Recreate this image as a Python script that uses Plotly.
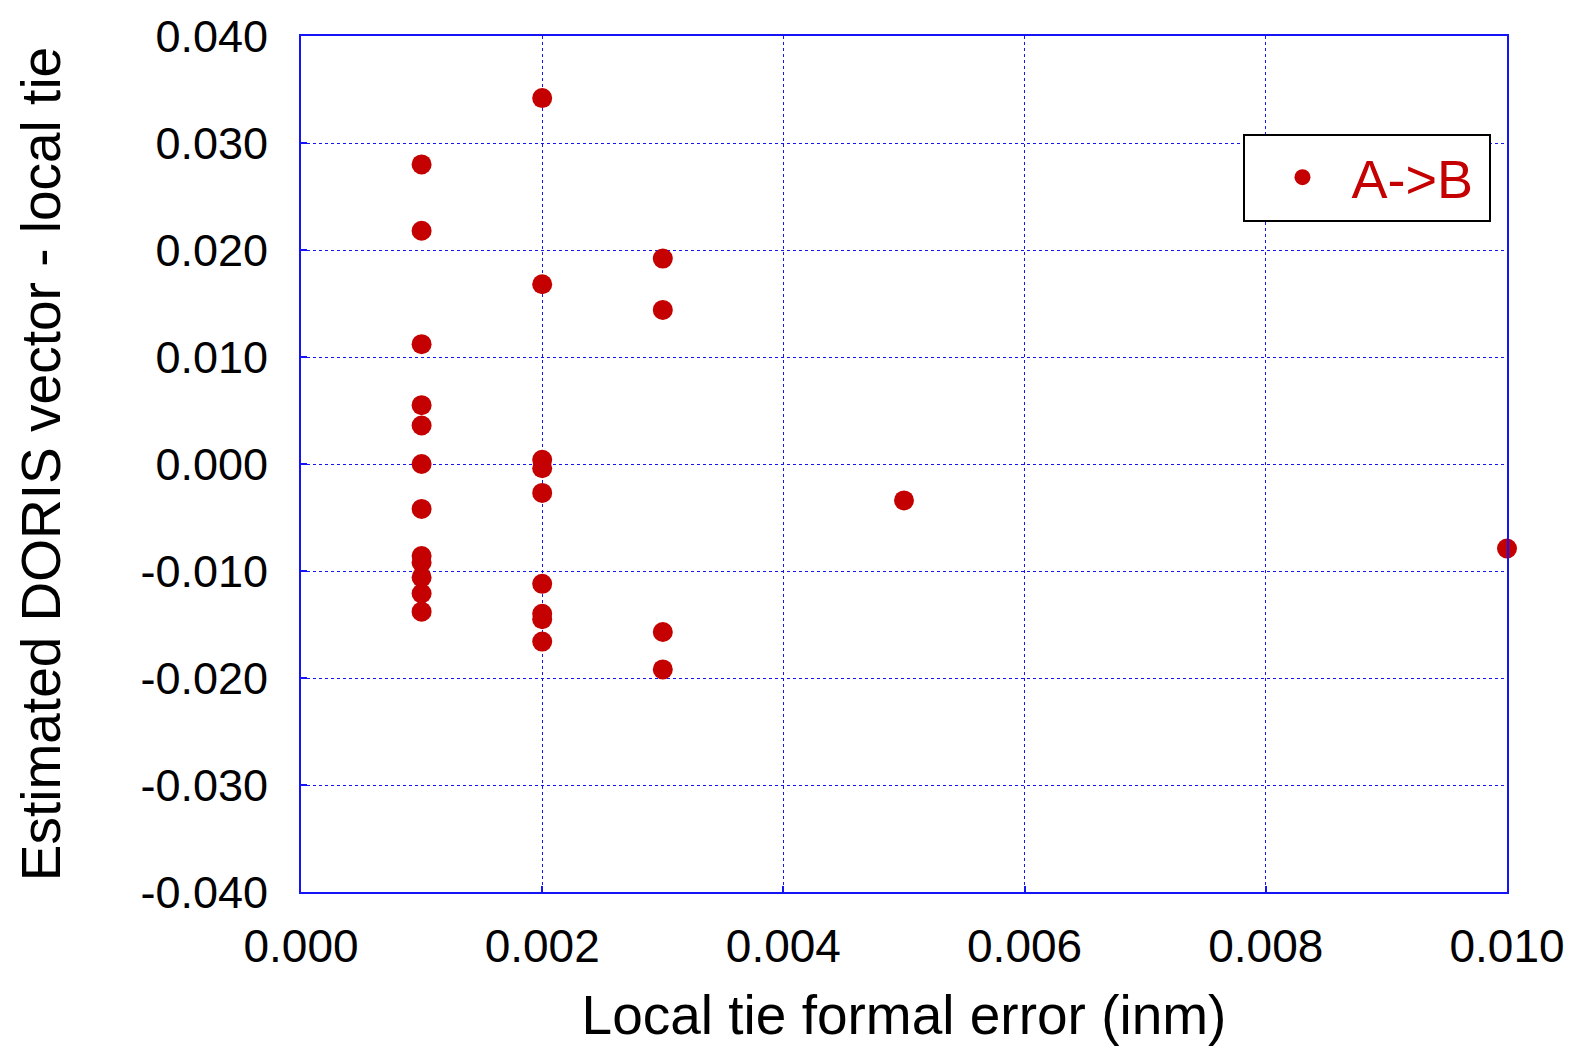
import plotly.graph_objects as go

# Data
x_err = [0.001] * 12 + [0.002] * 9 + [0.003] * 4 + [0.005, 0.010]
y_diff = [0.0280, 0.0218, 0.0112, 0.0055, 0.0036, 0.0000, -0.0042,
          -0.0086, -0.0092, -0.0106, -0.0121, -0.0138,
          0.0342, 0.0168, 0.0004, -0.0004, -0.0027, -0.0112, -0.0140, -0.0145, -0.0166,
          0.0192, 0.0144, -0.0157, -0.0192,
          -0.0034, -0.0079]

x_ticks = [0.000, 0.002, 0.004, 0.006, 0.008, 0.010]
x_ticklabels = ["0.000", "0.002", "0.004", "0.006", "0.008", "0.010"]
y_ticks = [0.040, 0.030, 0.020, 0.010, 0.000, -0.010, -0.020, -0.030, -0.040]
y_ticklabels = ["0.040", "0.030", "0.020", "0.010", "0.000", "-0.010", "-0.020", "-0.030", "-0.040"]

series_name = "A->B"
red = "#C40000"
blue = "#1414F5"
font_family = "Liberation Sans, Arial, sans-serif"

fig = go.Figure()
fig.add_trace(go.Scatter(
    x=x_err, y=y_diff, mode="markers", name=series_name + "\u2009",
    marker=dict(color=red, size=20, symbol="circle"),
    cliponaxis=False,
))

axis_common = dict(
    showline=True, linecolor=blue, linewidth=2, mirror=True,
    showgrid=True, gridcolor=blue, gridwidth=1.2, griddash="dot",
    zeroline=False, ticks="inside", ticklen=6, tickwidth=2, tickcolor=blue,
    automargin=False,
)

fig.update_xaxes(
    range=[0, 0.010], tickvals=x_ticks, ticktext=x_ticklabels,
    ticklabelstandoff=13,
    tickfont=dict(family=font_family, size=46, color="black"),
    title=dict(text="Local tie formal error (inm)", font=dict(family=font_family, size=55, color="black"), standoff=25),
    **axis_common,
)
fig.update_yaxes(
    range=[-0.040, 0.040], tickvals=y_ticks, ticktext=y_ticklabels,
    ticklabelstandoff=22,
    tickfont=dict(family=font_family, size=45, color="black"),
    title=dict(text="Estimated DORIS vector - local tie", font=dict(family=font_family, size=55, color="black"), standoff=62),
    **axis_common,
)

# The page adds an 8 px body margin, so the figure is sized to fit the window
fig.update_layout(
    width=1573, height=1038,
    margin=dict(l=293, r=74, t=28, b=154, autoexpand=False),
    paper_bgcolor="white", plot_bgcolor="white",
    showlegend=True,
    legend=dict(
        x=0.7815, y=0.886, xanchor="left", yanchor="top",
        bgcolor="white", bordercolor="black", borderwidth=2,
        font=dict(family=font_family, size=54, color=red),
        itemwidth=88, indentation=8,
    ),
)

fig.write_html("out.html")
